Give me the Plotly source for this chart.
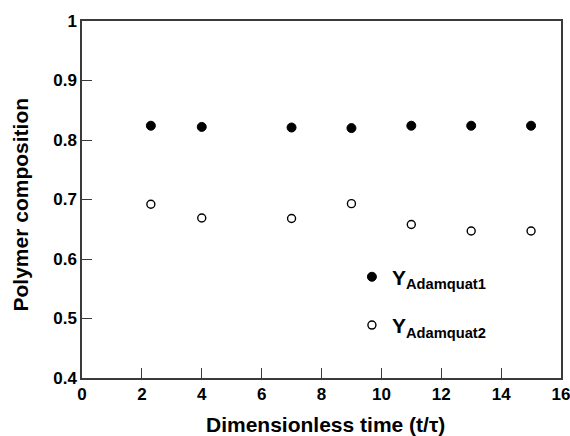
import plotly.graph_objects as go

time_adamquat1 = [2.3, 4.0, 7.0, 9.0, 11.0, 13.0, 15.0]
y_adamquat1 = [0.824, 0.822, 0.821, 0.820, 0.824, 0.824, 0.824]
time_adamquat2 = [2.3, 4.0, 7.0, 9.0, 11.0, 13.0, 15.0]
y_adamquat2 = [0.692, 0.669, 0.668, 0.693, 0.658, 0.647, 0.647]

x_ticks = [0, 2, 4, 6, 8, 10, 12, 14, 16]
x_ticklabels = ["0", "2", "4", "6", "8", "10", "12", "14", "16"]
y_ticks = [0.4, 0.5, 0.6, 0.7, 0.8, 0.9, 1.0]
y_ticklabels = ["0.4", "0.5", "0.6", "0.7", "0.8", "0.9", "1"]

x_title = "Dimensionless time (t/\u03c4)"
y_title = "Polymer composition"

FONT = "Liberation Sans, Arial, sans-serif"
AXIS_COLOR = "#3a3a3a"

fig = go.Figure()
fig.add_trace(go.Scatter(
    x=time_adamquat1, y=y_adamquat1, mode="markers",
    name="<b>Y<sub>Adamquat1</sub></b>", legendgroup="a",
    marker=dict(symbol="circle", size=9, color="black",
                line=dict(color="black", width=1)),
))
fig.add_trace(go.Scatter(
    x=time_adamquat2, y=y_adamquat2, mode="markers",
    name="<b>Y<sub>Adamquat2</sub></b>", legendgroup="b",
    marker=dict(symbol="circle-open", size=8, color="black",
                line=dict(color="black", width=1.4)),
))

fig.update_layout(
    width=570, height=436,
    margin=dict(l=82, r=9, t=21, b=58),
    paper_bgcolor="white", plot_bgcolor="white",
    font=dict(family=FONT, color="black"),
    showlegend=True,
    legend=dict(
        x=0.5635, y=0.34, xanchor="left", yanchor="top",
        bgcolor="rgba(0,0,0,0)", borderwidth=0,
        font=dict(family=FONT, size=21, color="black"),
        tracegroupgap=18,
    ),
    annotations=[
        dict(text="<b>%s</b>" % x_title, xref="paper", yref="paper",
             x=0.5, y=0, xanchor="center", yanchor="middle", yshift=-46,
             xshift=4, showarrow=False,
             font=dict(family=FONT, size=21, color="black")),
        dict(text="<b>%s</b>" % y_title, xref="paper", yref="paper",
             x=0, y=0.5, xanchor="center", yanchor="middle", xshift=-62,
             yshift=-5, textangle=-90, showarrow=False,
             font=dict(family=FONT, size=21, color="black")),
    ],
)
fig.update_xaxes(
    range=[0, 16], tickvals=x_ticks,
    ticktext=["<b>%s</b>" % t for t in x_ticklabels],
    ticks="inside", ticklen=10, tickwidth=1.2, tickcolor=AXIS_COLOR,
    showline=True, linecolor=AXIS_COLOR, linewidth=1.5, mirror=True,
    showgrid=False, zeroline=False, automargin=False,
    ticklabeloverflow="allow",
    tickfont=dict(family=FONT, size=17, color="black"),
)
fig.update_yaxes(
    range=[0.4, 1.0], tickvals=y_ticks,
    ticktext=["<b>%s</b>" % t for t in y_ticklabels],
    ticks="inside", ticklen=10, tickwidth=1.2, tickcolor=AXIS_COLOR,
    showline=True, linecolor=AXIS_COLOR, linewidth=1.5, mirror=True,
    showgrid=False, zeroline=False, automargin=False,
    ticklabeloverflow="allow",
    tickfont=dict(family=FONT, size=17, color="black"),
)

fig.write_html("out.html")
